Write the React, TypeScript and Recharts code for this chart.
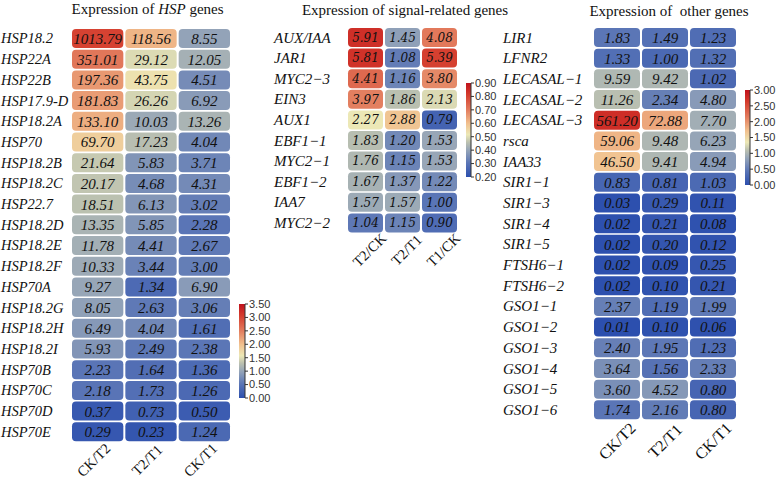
import { BarChart, Bar, XAxis, YAxis } from 'recharts';

// HSP panel
const hspGenes = ['HSP18.2', 'HSP22A', 'HSP22B', 'HSP17.9-D', 'HSP18.2A', 'HSP70', 'HSP18.2B', 'HSP18.2C', 'HSP22.7', 'HSP18.2D', 'HSP18.2E', 'HSP18.2F', 'HSP70A', 'HSP18.2G', 'HSP18.2H', 'HSP18.2I', 'HSP70B', 'HSP70C', 'HSP70D', 'HSP70E'];
const hspCols = ['CK/T2', 'T2/T1', 'CK/T1'];
const hspCKT2 = [1013.79, 351.01, 197.36, 181.83, 133.1, 69.7, 21.64, 20.17, 18.51, 13.35, 11.78, 10.33, 9.27, 8.05, 6.49, 5.93, 2.23, 2.18, 0.37, 0.29];
const hspT2T1 = [118.56, 29.12, 43.75, 26.26, 10.03, 17.23, 5.83, 4.68, 6.13, 5.85, 4.41, 3.44, 1.34, 2.63, 4.04, 2.49, 1.64, 1.73, 0.73, 0.23];
const hspCKT1 = [8.55, 12.05, 4.51, 6.92, 13.26, 4.04, 3.71, 4.31, 3.02, 2.28, 2.67, 3.0, 6.9, 3.06, 1.61, 2.38, 1.36, 1.26, 0.5, 1.24];
const hspBarTicks = [0, 0.5, 1, 1.5, 2, 2.5, 3, 3.5];

// signal-related panel
const sigGenes = ['AUX/IAA', 'JAR1', 'MYC2−3', 'EIN3', 'AUX1', 'EBF1−1', 'MYC2−1', 'EBF1−2', 'IAA7', 'MYC2−2'];
const sigCols = ['T2/CK', 'T2/T1', 'T1/CK'];
const sigT2CK = [5.91, 5.81, 4.41, 3.97, 2.27, 1.83, 1.76, 1.67, 1.57, 1.04];
const sigT2T1 = [1.45, 1.08, 1.16, 1.86, 2.88, 1.2, 1.15, 1.37, 1.57, 1.15];
const sigT1CK = [4.08, 5.39, 3.8, 2.13, 0.79, 1.53, 1.53, 1.22, 1.0, 0.9];
const sigBarTicks = [0.2, 0.3, 0.4, 0.5, 0.6, 0.7, 0.8, 0.9];

// other genes panel
const othGenes = ['LIR1', 'LFNR2', 'LECASAL−1', 'LECASAL−2', 'LECASAL−3', 'rsca', 'IAA33', 'SIR1−1', 'SIR1−3', 'SIR1−4', 'SIR1−5', 'FTSH6−1', 'FTSH6−2', 'GSO1−1', 'GSO1−2', 'GSO1−3', 'GSO1−4', 'GSO1−5', 'GSO1−6'];
const othCols = ['CK/T2', 'T2/T1', 'CK/T1'];
const othCKT2 = [1.83, 1.33, 9.59, 11.26, 561.2, 59.06, 46.5, 0.83, 0.03, 0.02, 0.02, 0.02, 0.02, 2.37, 0.01, 2.4, 3.64, 3.6, 1.74];
const othT2T1 = [1.49, 1.0, 9.42, 2.34, 72.88, 9.48, 9.41, 0.81, 0.29, 0.21, 0.2, 0.09, 0.1, 1.19, 0.1, 1.95, 1.56, 4.52, 2.16];
const othCKT1 = [1.23, 1.32, 1.02, 4.8, 7.7, 6.23, 4.94, 1.03, 0.11, 0.08, 0.12, 0.25, 0.21, 1.99, 0.06, 1.23, 2.33, 0.8, 0.8];
const othBarTicks = [0, 0.5, 1, 1.5, 2, 2.5, 3];

const STOPS: [number, string][] = [
  [0, '#2c4fae'],
  [0.15, '#5b76b6'],
  [0.28, '#93a3b8'],
  [0.37, '#bcc1b0'],
  [0.45, '#ece8b6'],
  [0.57, '#f1c08e'],
  [0.72, '#e27a5c'],
  [0.88, '#d43a2c'],
  [1, '#c0121c'],
];

const hex = (c: string) => [1, 3, 5].map((i) => parseInt(c.slice(i, i + 2), 16));

function colorAt(t: number) {
  const u = Math.max(0, Math.min(1, t));
  for (let i = 1; i < STOPS.length; i++) {
    if (u <= STOPS[i][0]) {
      const [t0, c0] = STOPS[i - 1];
      const [t1, c1] = STOPS[i];
      const f = (u - t0) / (t1 - t0);
      const a = hex(c0);
      const b = hex(c1);
      return `rgb(${a.map((v, k) => Math.round(v + (b[k] - v) * f)).join(',')})`;
    }
  }
  return STOPS[STOPS.length - 1][1];
}

const SERIF = '"Liberation Serif", serif';
const one = () => 1;

function makeCell(key: string, lo: number, hi: number, font: string, size: number) {
  return (props: any) => {
    const { x, y, width, height, payload } = props;
    const v = payload[key];
    const t = (Math.log10(v + 1) - lo) / (hi - lo);
    return (
      <g>
        <rect x={x + 1} y={y} width={width - 2} height={height} rx={4} ry={4} fill={colorAt(t)} />
        <text x={x + width / 2} y={y + height / 2} dy="0.36em" textAnchor="middle" fontFamily={font} fontStyle="italic" fontSize={size} fill="#111">
          {v.toFixed(2)}
        </text>
      </g>
    );
  };
}

type PanelProps = {
  rows: any[];
  cols: string[];
  lo: number;
  hi: number;
  left: number;
  width: number;
  height: number;
  margin: { top: number; right: number; bottom: number; left: number };
  yWidth: number;
  xHeight: number;
  labelX: number;
  labelSize: number;
  numFont: string;
  numSize: number;
  colDx: number;
  colDy: number;
  colSize: number;
};

function HeatPanel(p: PanelProps) {
  const plotBottom = p.height - p.margin.bottom - p.xHeight;
  return (
    <div style={{ position: 'absolute', left: p.left, top: 0 }}>
      <BarChart width={p.width} height={p.height} data={p.rows} layout="vertical" margin={p.margin} barCategoryGap={1}>
        <XAxis
          type="number"
          domain={[0, 3]}
          ticks={[0.5, 1.5, 2.5]}
          interval={0}
          height={p.xHeight}
          axisLine={false}
          tickLine={false}
          tick={(t: any) => {
            const cx = t.x + p.colDx;
            const cy = plotBottom + p.colDy;
            return (
              <text x={cx} y={cy} dy="0.35em" textAnchor="middle" transform={`rotate(-45 ${cx} ${cy})`} fontFamily={SERIF} fontSize={p.colSize} fill="#111">
                {p.cols[Math.floor(t.payload.value)]}
              </text>
            );
          }}
        />
        <YAxis
          type="category"
          dataKey="gene"
          width={p.yWidth}
          interval={0}
          axisLine={false}
          tickLine={false}
          tick={(t: any) => (
            <text x={p.labelX} y={t.y} dy="0.35em" textAnchor="start" fontFamily={SERIF} fontStyle="italic" fontSize={p.labelSize} fill="#111">
              {t.payload.value}
            </text>
          )}
        />
        {['c0', 'c1', 'c2'].map((k) => (
          <Bar key={k} dataKey={one} stackId="a" isAnimationActive={false} shape={makeCell(k, p.lo, p.hi, p.numFont, p.numSize)} />
        ))}
      </BarChart>
    </div>
  );
}

function ColorBar({ id, lo, hi, ticks, left, top, barW, plotH }: { id: string; lo: number; hi: number; ticks: number[]; left: number; top: number; barW: number; plotH: number }) {
  return (
    <div style={{ position: 'absolute', left, top }}>
      <BarChart width={3 + barW + 30} height={plotH + 16} data={[{ k: 'bar', span: [lo, hi] }]} margin={{ top: 8, right: 0, bottom: 8, left: 3 }} barCategoryGap={0}>
        <defs>
          <linearGradient id={id} x1="0" y1="1" x2="0" y2="0">
            {STOPS.map(([o, c]) => (
              <stop key={o} offset={o} stopColor={c} />
            ))}
          </linearGradient>
        </defs>
        <XAxis dataKey="k" hide />
        <YAxis
          type="number"
          domain={[lo, hi]}
          ticks={ticks}
          interval={0}
          orientation="right"
          width={30}
          tickSize={3}
          tickMargin={1}
          axisLine={{ stroke: '#333' }}
          tickLine={{ stroke: '#333' }}
          tick={{ fontSize: 11, fill: '#333', fontFamily: '"Liberation Sans", sans-serif' }}
          tickFormatter={(v: number) => v.toFixed(2)}
        />
        <Bar dataKey="span" fill={`url(#${id})`} isAnimationActive={false} />
      </BarChart>
    </div>
  );
}

const toRows = (genes: string[], a: number[], b: number[], c: number[]) => genes.map((gene, i) => ({ gene, c0: a[i], c1: b[i], c2: c[i] }));

export default function App() {
  const hspRows = toRows(hspGenes, hspCKT2, hspT2T1, hspCKT1);
  const sigRows = toRows(sigGenes, sigT2CK, sigT2T1, sigT1CK);
  const othRows = toRows(othGenes, othCKT2, othT2T1, othCKT1);
  return (
    <div style={{ position: 'absolute', left: 0, top: 0, width: 780, height: 481, background: '#fff', overflow: 'hidden' }}>
      <svg width={780} height={24} style={{ position: 'absolute', left: 0, top: 0 }}>
        <text x={147.5} y={14} textAnchor="middle" fontFamily={SERIF} fontSize={15} fill="#111">
          Expression of <tspan fontStyle="italic">HSP</tspan> genes
        </text>
        <text x={405} y={14.5} textAnchor="middle" fontFamily={SERIF} fontSize={15} fill="#111">
          Expression of signal-related genes
        </text>
        <text x={669} y={16} textAnchor="middle" fontFamily={SERIF} fontSize={15} fill="#111" style={{ whiteSpace: 'pre' }}>
          {'Expression of  other genes'}
        </text>
      </svg>
      <HeatPanel
        rows={hspRows}
        cols={hspCols}
        lo={0}
        hi={3.5}
        left={0}
        width={240}
        height={481}
        margin={{ top: 28, right: 9, bottom: 9, left: 0 }}
        yWidth={71}
        xHeight={30}
        labelX={1}
        labelSize={14.5}
        numFont={SERIF}
        numSize={15}
        colDx={-4}
        colDy={18}
        colSize={14.5}
      />
      <HeatPanel
        rows={sigRows}
        cols={sigCols}
        lo={0.2}
        hi={0.9}
        left={270}
        width={205}
        height={300}
        margin={{ top: 27, right: 17, bottom: 37, left: 0 }}
        yWidth={77}
        xHeight={30}
        labelX={4}
        labelSize={15}
        numFont={'"DejaVu Serif", serif'}
        numSize={12}
        colDx={4}
        colDy={17}
        colSize={14.5}
      />
      <HeatPanel
        rows={othRows}
        cols={othCols}
        lo={0}
        hi={3}
        left={500}
        width={240}
        height={481}
        margin={{ top: 27, right: 3, bottom: 26, left: 0 }}
        yWidth={93}
        xHeight={35}
        labelX={3}
        labelSize={15}
        numFont={SERIF}
        numSize={15}
        colDx={0}
        colDy={21}
        colSize={16}
      />
      <ColorBar id="cbHsp" lo={0} hi={3.5} ticks={hspBarTicks} left={236} top={296} barW={6} plotH={94} />
      <ColorBar id="cbSig" lo={0.2} hi={0.9} ticks={sigBarTicks} left={463} top={75} barW={5} plotH={94} />
      <ColorBar id="cbOth" lo={0} hi={3} ticks={othBarTicks} left={742} top={82} barW={5} plotH={95} />
    </div>
  );
}
